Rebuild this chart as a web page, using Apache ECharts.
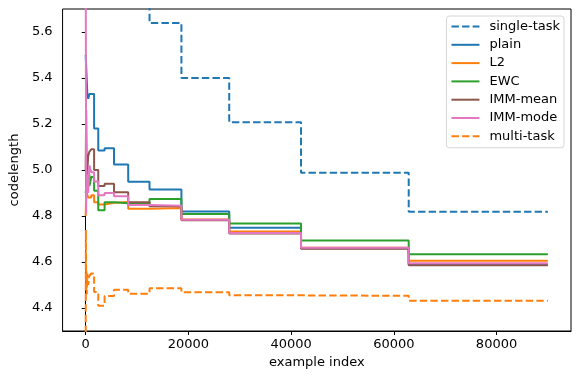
<!DOCTYPE html>
<html>
<head>
<meta charset="utf-8">
<script src="https://cdn.jsdelivr.net/npm/echarts@6/dist/echarts.min.js"></script>
<style>
  html, body { margin: 0; padding: 0; background: #fff; }
  #chart { width: 581px; height: 381px; }
</style>
</head>
<body>
<div id="chart"></div>
<script>
// tick labels
var xTicks = [0, 20000, 40000, 60000, 80000];
var yTicks = [4.4, 4.6, 4.8, 5.0, 5.2, 5.4, 5.6];

// [example index, codelength] - value holds until the next point
var singleTask = [[0, 6.6], [12430, 5.639], [18640, 5.40], [27950, 5.208], [41930, 4.988], [62900, 4.819], [90000, 4.819]];
var plain = [[0, 5.50], [323, 5.33], [485, 5.31], [727, 5.33], [1090, 5.33], [1640, 5.18], [2450, 5.085], [3680, 5.095],
  [5520, 5.024], [8280, 4.949], [12430, 4.915], [18640, 4.820], [27950, 4.749], [41930, 4.66], [62900, 4.59], [90000, 4.59]];
var l2 = [[0, 4.80], [96, 4.91], [485, 4.88], [1090, 4.89], [1640, 4.86], [2450, 4.85], [3680, 4.858], [5520, 4.861],
  [8280, 4.831], [12430, 4.835], [18640, 4.785], [27950, 4.733], [41930, 4.662], [62900, 4.605], [90000, 4.605]];
var ewc = [[0, 4.90], [323, 4.98], [727, 4.93], [1090, 4.97], [1640, 4.91], [2450, 4.825], [3680, 4.86], [5520, 4.855],
  [8280, 4.855], [12430, 4.874], [18640, 4.809], [27950, 4.767], [41930, 4.694], [62900, 4.634], [90000, 4.634]];
var immMean = [[0, 5.0], [96, 5.26], [215, 4.95], [485, 5.06], [727, 5.08], [1090, 5.09], [1640, 5.0], [2450, 4.93],
  [3680, 4.94], [5520, 4.903], [8280, 4.86], [12430, 4.842], [18640, 4.782], [27950, 4.724], [41930, 4.658], [62900, 4.586], [90000, 4.586]];
var immMode = [[0, 6.0], [64, 5.2], [96, 4.81], [144, 5.0], [215, 4.92], [323, 4.98], [485, 4.90], [727, 5.02], [1090, 4.99],
  [1640, 4.95], [2450, 4.89], [3680, 4.90], [5520, 4.886], [8280, 4.848], [12430, 4.845], [18640, 4.784], [27950, 4.726],
  [41930, 4.662], [62900, 4.595], [90000, 4.595]];
var multiTask = [[0, 4.2], [40, 4.74], [96, 4.48], [144, 4.56], [215, 4.46], [323, 4.55], [485, 4.50], [727, 4.54],
  [1090, 4.55], [1640, 4.47], [2450, 4.41], [3680, 4.452], [5520, 4.479], [8280, 4.462], [12430, 4.486], [18640, 4.468],
  [27950, 4.455], [41930, 4.453], [62900, 4.432], [90000, 4.432]];

var chart = echarts.init(document.getElementById('chart'), null, { renderer: 'canvas' });

function stepLine(name, data, color, dashed) {
  return {
    name: name,
    type: 'line',
    step: 'end',
    data: data,
    symbol: 'none',
    clip: true,
    lineStyle: { color: color, width: 2, type: dashed ? [7.4, 3.2] : 'solid' },
    itemStyle: { color: color }
  };
}

var font = 'DejaVu Sans';

var option = {
  animation: false,
  textStyle: { fontFamily: font },
  grid: { left: 58, right: 10, top: 9, bottom: 50, show: true, borderColor: '#000', borderWidth: 1 },
  legend: {
    orient: 'vertical',
    right: 17,
    top: 16,
    padding: [4, 4, 5, 4],
    itemWidth: 28,
    itemHeight: 14,
    itemGap: 5.3,
    itemStyle: { opacity: 0 },
    backgroundColor: 'rgba(255,255,255,0.8)',
    borderColor: '#d6d6d6',
    borderWidth: 1,
    borderRadius: 3,
    textStyle: { fontFamily: font, fontSize: 13, color: '#000', padding: [0, 0, 0, 5] },
    data: ['single-task', 'plain', 'L2', 'EWC', 'IMM-mean', 'IMM-mode', 'multi-task']
  },
  xAxis: {
    type: 'value',
    min: -4500,
    max: 94500,
    name: 'example index',
    nameLocation: 'middle',
    nameGap: 25,
    nameTextStyle: { fontFamily: font, fontSize: 13, color: '#000' },
    axisLine: { show: true, lineStyle: { color: '#000', width: 1 } },
    axisTick: { show: true, length: 4, lineStyle: { color: '#000' }, customValues: xTicks },
    axisLabel: {
      fontFamily: font, fontSize: 13, color: '#000', margin: 7, customValues: xTicks,
      formatter: function (v) { return String(v); }
    },
    splitLine: { show: false }
  },
  yAxis: {
    type: 'value',
    min: 4.3,
    max: 5.7,
    name: 'codelength',
    nameLocation: 'middle',
    nameGap: 37,
    nameTextStyle: { fontFamily: font, fontSize: 13, color: '#000' },
    axisLine: { show: true, lineStyle: { color: '#000', width: 1 } },
    axisTick: { show: true, length: 4, lineStyle: { color: '#000' }, customValues: yTicks },
    axisLabel: {
      fontFamily: font, fontSize: 13, color: '#000', margin: 10, customValues: yTicks,
      formatter: function (v) { return v.toFixed(1); }
    },
    splitLine: { show: false }
  },
  series: [
    stepLine('single-task', singleTask, '#1f77b4', true),
    stepLine('plain', plain, '#1f77b4', false),
    stepLine('L2', l2, '#ff7f0e', false),
    stepLine('EWC', ewc, '#2ca02c', false),
    stepLine('IMM-mean', immMean, '#8c564b', false),
    stepLine('IMM-mode', immMode, '#e377c2', false),
    stepLine('multi-task', multiTask, '#ff7f0e', true)
  ]
};

chart.setOption(option);
</script>
</body>
</html>
